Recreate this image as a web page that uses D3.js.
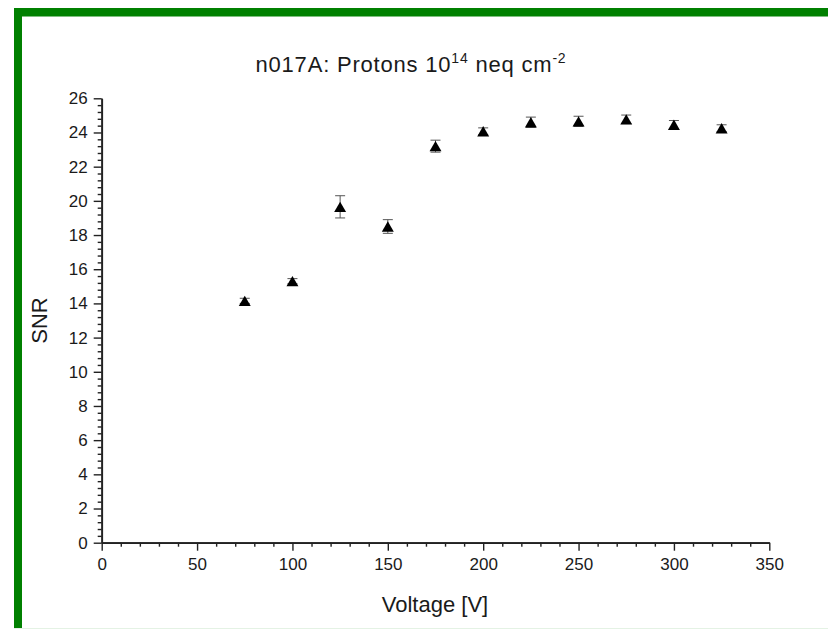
<!DOCTYPE html>
<html lang="en">
<head>
<meta charset="utf-8">
<title>n017A SNR</title>
<script src="https://cdn.jsdelivr.net/npm/d3@7"></script>
<style>
  body { margin: 0; background: #fff; }
  svg text { font-family: "Liberation Sans", Arial, sans-serif; fill: #1a1a1a; }
</style>
</head>
<body>
<div id="chart"></div>
<script>
// data
var voltage = [75, 100, 125, 150, 175, 200, 225, 250, 275, 300, 325];
var snr     = [14.15, 15.3, 19.65, 18.5, 23.2, 24.07, 24.6, 24.65, 24.77, 24.45, 24.25];
var snrErr  = [0.15, 0.15, 0.65, 0.4, 0.35, 0.2, 0.3, 0.3, 0.25, 0.25, 0.2];
var xTicks  = [0, 50, 100, 150, 200, 250, 300, 350];
var yTicks  = [0, 2, 4, 6, 8, 10, 12, 14, 16, 18, 20, 22, 24, 26];

var W = 828, H = 629;
var svg = d3.select("#chart").append("svg")
    .attr("width", W).attr("height", H);

// green frame (top and left)
svg.append("rect").attr("x", 14).attr("y", 8).attr("width", W - 14).attr("height", 8.5).attr("fill", "#008000");
svg.append("rect").attr("x", 14).attr("y", 8).attr("width", 8).attr("height", H - 8).attr("fill", "#008000");
svg.append("line").attr("x1", 14).attr("x2", W).attr("y1", 628.5).attr("y2", 628.5)
    .attr("stroke", "#e4f2e4").attr("stroke-width", 1);

var x = d3.scaleLinear().domain([0, 350]).range([101.7, 769.3]);
var y = d3.scaleLinear().domain([0, 26]).range([542.7, 98.3]);

// minor ticks
var xMinor = d3.range(0, 351, 10).filter(function(v) { return v % 50 !== 0; });
var yMinor = d3.range(0, 26.01, 0.4).filter(function(v) { return Math.abs(v / 2 - Math.round(v / 2)) > 0.01; });

svg.append("g").attr("transform", "translate(0," + y(0) + ")")
    .call(d3.axisBottom(x).tickValues(xMinor).tickSize(4).tickFormat("").tickSizeOuter(0));
svg.append("g").attr("transform", "translate(0," + y(0) + ")")
    .call(d3.axisBottom(x).tickValues(xTicks).tickSize(8).tickPadding(7).tickSizeOuter(0));

svg.append("g").attr("transform", "translate(" + x(0) + ",0)")
    .call(d3.axisLeft(y).tickValues(yMinor).tickSize(4).tickFormat("").tickSizeOuter(0));
svg.append("g").attr("transform", "translate(" + x(0) + ",0)")
    .call(d3.axisLeft(y).tickValues(yTicks).tickSize(8).tickPadding(6).tickSizeOuter(0));

svg.selectAll(".domain").attr("stroke", "#222").attr("stroke-width", 1.7);
svg.selectAll(".tick line").attr("stroke", "#222").attr("stroke-width", 1.4);
svg.selectAll(".tick text").style("font-size", "17px").attr("fill", "#1a1a1a");

// error bars
var pts = voltage.map(function(v, i) { return { v: v, s: snr[i], e: snrErr[i] }; });
var eb = svg.append("g").attr("stroke", "#555").attr("stroke-width", 1);
pts.forEach(function(d) {
  eb.append("line").attr("x1", x(d.v)).attr("x2", x(d.v)).attr("y1", y(d.s - d.e)).attr("y2", y(d.s + d.e));
  eb.append("line").attr("x1", x(d.v) - 5).attr("x2", x(d.v) + 5).attr("y1", y(d.s + d.e)).attr("y2", y(d.s + d.e));
  eb.append("line").attr("x1", x(d.v) - 5).attr("x2", x(d.v) + 5).attr("y1", y(d.s - d.e)).attr("y2", y(d.s - d.e));
});

// triangle markers, shifted so the bounding box is centred on the point
var triSize = 62;
var triH = Math.sqrt(4 * triSize / Math.sqrt(3)) * Math.sqrt(3) / 2;
svg.append("g").selectAll("path").data(pts).enter().append("path")
    .attr("d", d3.symbol(d3.symbolTriangle, triSize))
    .attr("transform", function(d) { return "translate(" + x(d.v) + "," + (y(d.s) + triH / 6) + ")"; })
    .attr("fill", "#000");

// title
var t = svg.append("text").attr("x", 411).attr("y", 72).attr("text-anchor", "middle")
    .style("font-size", "22px").style("letter-spacing", "0.8px");
t.append("tspan").text("n017A: Protons 10");
t.append("tspan").attr("dy", -9).style("font-size", "14px").text("14");
t.append("tspan").attr("dy", 9).text(" neq cm");
t.append("tspan").attr("dy", -9).style("font-size", "14px").text("-2");

// axis titles
svg.append("text").attr("x", 435).attr("y", 612).attr("text-anchor", "middle")
    .style("font-size", "22px").text("Voltage [V]");
svg.append("text").attr("transform", "translate(47," + y(13) + ") rotate(-90)")
    .attr("text-anchor", "middle").style("font-size", "22px").text("SNR");
</script>
</body>
</html>
